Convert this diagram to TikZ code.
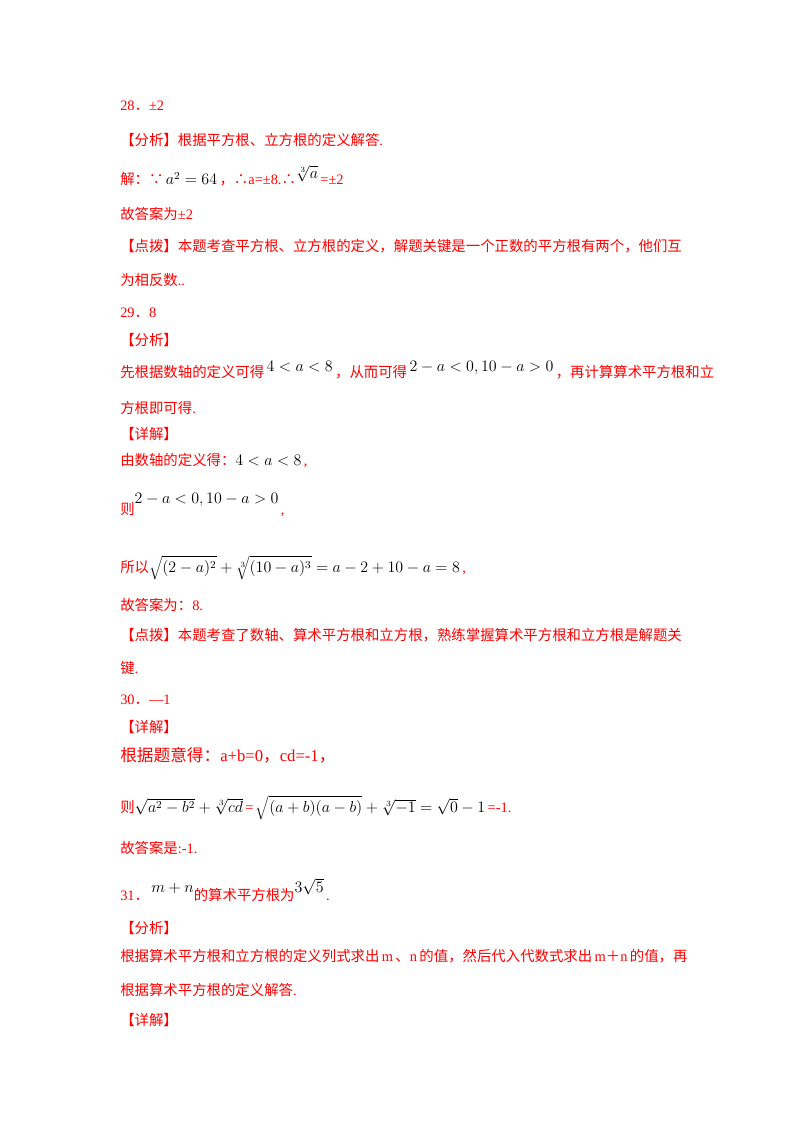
\documentclass[tikz,border=0pt]{standalone}
\usepackage{fontspec}
\setmainfont{Liberation Serif}
\newfontfamily\cjk{Noto Sans CJK SC}
\newcommand{\zh}[1]{{\cjk #1}}
\definecolor{tr}{RGB}{255,0,0}
\begin{document}
\begin{tikzpicture}[x=0.75pt,y=-0.75pt]
\tikzset{ln/.style={anchor=west,inner sep=0pt,text=tr,font=\fontsize{10.8pt}{12pt}\selectfont}}
\useasboundingbox (0,0) rectangle (800,1132);
\node[ln] (l1) at (120,106) {28\zh{．}±2};
\node[ln] (l2) at (120,140) {\zh{【分析】根据平方根、立方根的定义解答}.};
\node[ln] (l3) at (120,176) {\zh{解：∵}\,{\color{black}\large$a^2=64$}\,\zh{，∴}a=±8.\zh{∴}\raisebox{5pt}{\color{black}\large$\sqrt[3]{a}$}\,=±2};
\node[ln] (l4) at (120,214) {\zh{故答案为}±2};
\node[ln] (l5) at (120,246) {\zh{【点拨】本题考查平方根、立方根的定义，解题关键是一个正数的平方根有两个，他们互}};
\node[ln] (l6) at (120,280) {\zh{为相反数}..};
\node[ln] (l7) at (120,313) {29\zh{．}8};
\node[ln] (l8) at (120,340) {\zh{【分析】}};
\node[ln] (l9) at (120,370) {\zh{先根据数轴的定义可得}\,\raisebox{4pt}{\color{black}\large$4<a<8$}\,\zh{，从而可得}\,\raisebox{4pt}{\color{black}\large$2-a<0,10-a>0$}\,\zh{，再计算算术平方根和立}};
\node[ln] (l10) at (120,408) {\zh{方根即可得}.};
\node[ln] (l11) at (120,434) {\zh{【详解】}};
\node[ln] (l12) at (120,461) {\zh{由数轴的定义得：}{\color{black}\large$4<a<8$}\,,};
\node[ln] (l13) at (120,505) {\zh{则}\raisebox{8pt}{\color{black}\large$2-a<0,10-a>0$}\,,};
\node[ln] (l14) at (120,568) {\zh{所以}{\color{black}\large$\sqrt{(2-a)^2}+\sqrt[3]{(10-a)^3}=a-2+10-a=8$}\,,};
\node[ln] (l15) at (120,605) {\zh{故答案为：}8.};
\node[ln] (l16) at (120,635) {\zh{【点拨】本题考查了数轴、算术平方根和立方根，熟练掌握算术平方根和立方根是解题关}};
\node[ln] (l17) at (120,668) {\zh{键}.};
\node[ln] (l18) at (120,700) {30\zh{．}—1};
\node[ln] (l19) at (120,727) {\zh{【详解】}};
\node[ln,font=\fontsize{12.5pt}{14pt}\selectfont] (l20) at (120,755) {\zh{根据题意得：}a+b=0\zh{，}cd=-1\zh{，}};
\node[ln] (l21) at (120,808) {\zh{则}{\color{black}\large$\sqrt{a^2-b^2}+\sqrt[3]{cd}$}\,=\,{\color{black}\large$\sqrt{(a+b)(a-b)}+\sqrt[3]{-1}=\sqrt{0}-1$}\,=-1.};
\node[ln] (l22) at (120,848) {\zh{故答案是}:-1.};
\node[ln] (l23) at (120,890) {31\zh{．}\,\raisebox{6pt}{\color{black}\large$m+n$}\zh{的算术平方根为}\raisebox{6pt}{\color{black}\large$3\sqrt{5}$}\,.};
\node[ln] (l24) at (120,928) {\zh{【分析】}};
\node[ln] (l25) at (120,956) {\zh{根据算术平方根和立方根的定义列式求出}\,m\,\zh{、}n\,\zh{的值，然后代入代数式求出}\,m\zh{＋}n\,\zh{的值，再}};
\node[ln] (l26) at (120,990) {\zh{根据算术平方根的定义解答}.};
\node[ln] (l27) at (120,1020) {\zh{【详解】}};
\end{tikzpicture}
\end{document}
